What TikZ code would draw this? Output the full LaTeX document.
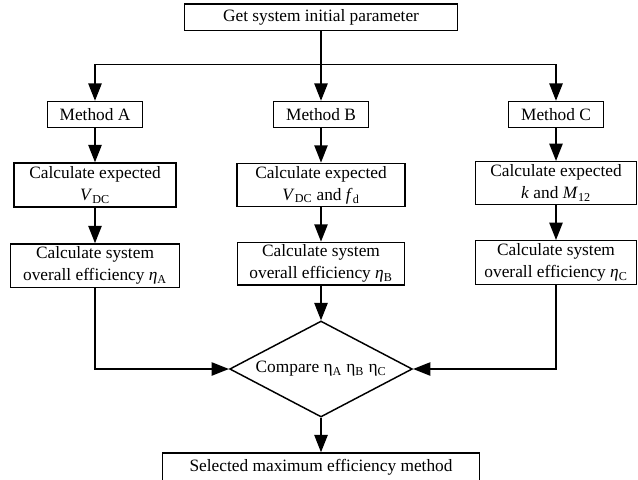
\documentclass[tikz,border=0pt]{standalone}
\usepackage{fontspec}
\setmainfont{Liberation Serif}
\usetikzlibrary{shapes.geometric,arrows.meta}

\newcommand{\vdcsym}{\textit{V}\textsubscript{DC}}
\newcommand{\effsym}[1]{\textit{η}\textsubscript{#1}}

\begin{document}
\begin{tikzpicture}[x=0.75pt,y=-0.75pt,font=\fontsize{13}{16.5}\selectfont,
  box/.style={draw,line width=1.1pt,align=center,inner sep=0pt},
  arr/.style={line width=1.1pt,-{Triangle[length=13pt,width=10pt]}}]
\useasboundingbox (0,0) rectangle (638,479);
\node[box,minimum width=205pt,minimum height=20pt] (get) at (321,17.3) {Get system initial parameter};
\coordinate (br) at (321,64.3);
\node[box,minimum width=71pt,minimum height=19.5pt] (mA) at (95,114.5) {Method A};
\node[box,minimum width=71pt,minimum height=19.5pt] (mB) at (321,114.5) {Method B};
\node[box,minimum width=71pt,minimum height=19.5pt] (mC) at (556,114.5) {Method C};
\node[box,minimum width=121.5pt,minimum height=33pt] (eA) at (95,185) {Calculate expected\\\vdcsym};
\node[box,minimum width=125.7pt,minimum height=32.5pt] (eB) at (321,185) {Calculate expected\\\vdcsym{} and \textit{f}\textsubscript{d}};
\node[box,minimum width=121pt,minimum height=32pt] (eC) at (556,183) {Calculate expected\\\textit{k} and \textit{M}\textsubscript{12}};
\node[box,minimum width=126.5pt,minimum height=32.8pt] (sA) at (95,265.8) {Calculate system\\overall efficiency \effsym{A}};
\node[box,minimum width=125pt,minimum height=32pt] (sB) at (321,263.7) {Calculate system\\overall efficiency \effsym{B}};
\node[box,minimum width=121pt,minimum height=32.7pt] (sC) at (556,262.5) {Calculate system\\overall efficiency \effsym{C}};
\node[diamond,draw,line width=1.1pt,minimum width=137pt,minimum height=72pt,inner sep=0pt,aspect=1.9] (cmp) at (321,369) {Compare η\textsubscript{A} η\textsubscript{B} η\textsubscript{C}};
\node[box,minimum width=238pt,minimum height=21pt] (sel) at (321,467) {Selected maximum efficiency method};
\draw[arr] (get) -- (mB);
\draw[arr] (br) -| (mA);
\draw[arr] (br) -| (mC);
\draw[arr] (mA) -- (eA); \draw[arr] (mB) -- (eB); \draw[arr] (mC) -- (eC);
\draw[arr] (eA) -- (sA); \draw[arr] (eB) -- (sB); \draw[arr] (eC) -- (sC);
\draw[arr] (sA) |- (cmp); \draw[arr] (sB) -- (cmp); \draw[arr] (sC) |- (cmp);
\draw[arr] (cmp) -- (sel);
\end{tikzpicture}
\end{document}
